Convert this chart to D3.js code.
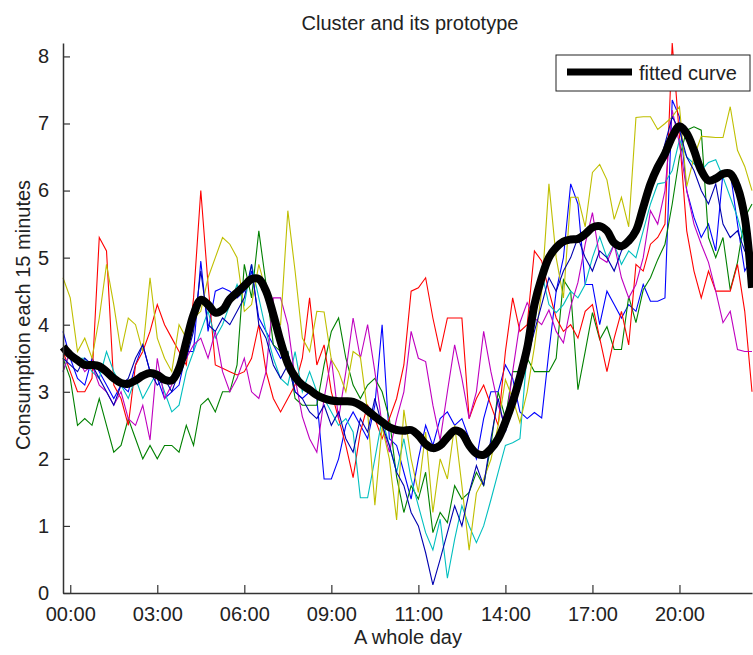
<!DOCTYPE html>
<html>
<head>
<meta charset="utf-8">
<script src="https://cdn.jsdelivr.net/npm/d3@7"></script>
<style>
  body { margin: 0; background: #fff; }
  svg { display: block; font-family: "Liberation Sans", Arial, sans-serif; }
</style>
</head>
<body>
<div id="chart"></div>
<script>
// 96 quarter-hour readings per day
const tickIndex = [1, 13, 25, 37, 49, 61, 73, 85];
const tickLabels = ["00:00", "03:00", "06:00", "09:00", "11:00", "14:00", "17:00", "20:00"];
const yTicks = [0, 1, 2, 3, 4, 5, 6, 7, 8];

const blueSeries = [3.9,3.5,3.2,3.1,3.5,3.3,3.1,2.9,3.1,3.0,3.4,3.7,3.3,3.2,2.9,3.0,3.1,3.6,3.6,4.95,3.9,4.5,4.55,4.5,4.4,4.5,4.8,4.1,3.9,3.7,3.5,3.6,3.0,2.9,3.0,2.9,1.7,1.7,2.0,2.5,2.7,2.5,2.3,2.8,4.0,2.3,2.2,1.8,1.4,2.0,2.5,2.2,2.6,2.7,2.5,2.6,2.3,2.0,2.6,3.0,3.0,3.4,3.2,2.7,2.6,2.69,2.61,3.6,4.5,5.0,6.1,5.8,4.6,4.6,4.0,4.5,4.3,4.1,4.3,4.2,4.6,4.35,4.35,4.4,7.35,7.1,6.0,5.6,5.3,5.5,5.1,6.27,6.28,5.5,4.8,5.0];
const greenSeries = [3.5,3.2,2.5,2.6,2.5,2.9,2.5,2.1,2.2,2.6,2.3,2.0,2.2,2.0,2.2,2.2,2.1,2.5,2.2,2.8,2.9,2.7,3.0,3.0,3.4,4.9,4.4,5.4,4.6,3.7,3.6,3.6,2.9,2.8,2.8,2.8,3.4,3.9,4.1,3.5,3.1,2.9,3.1,3.2,3.0,2.6,1.73,1.2,1.6,1.4,1.8,0.9,1.2,1.05,1.6,1.4,1.5,1.8,1.6,2.2,3.0,2.6,3.3,3.3,3.5,3.3,3.3,3.3,3.5,4.67,4.5,3.03,3.6,4.18,3.78,3.97,3.63,3.63,4.42,4.03,4.52,4.7,4.97,5.2,5.8,6.5,6.9,6.95,6.9,5.3,5.0,5.3,4.52,4.93,5.6,5.8];
const redSeries = [3.6,3.3,3.0,3.0,3.2,5.3,5.1,3.1,2.9,2.5,3.4,3.6,3.9,4.3,4.0,3.8,3.6,3.4,4.4,6.0,4.6,3.4,3.35,3.3,3.25,3.3,3.5,4.0,3.3,2.9,2.7,2.9,3.1,3.5,4.4,3.4,3.7,3.0,2.6,2.2,1.72,2.4,2.8,2.6,2.3,2.6,2.9,3.4,4.5,4.55,4.7,4.1,3.6,4.1,4.1,4.1,2.6,2.9,3.1,2.8,2.5,3.6,4.4,3.9,4.0,5.1,4.95,4.5,4.1,3.9,4.0,3.8,4.2,4.3,3.8,3.3,3.8,4.2,3.7,4.9,4.8,5.2,5.3,5.5,8.2,6.8,5.4,4.8,4.4,4.8,4.5,4.5,4.5,4.9,4.2,3.0];
const cyanSeries = [3.3,3.6,3.5,3.5,3.3,3.2,3.6,3.3,3.1,2.9,3.2,2.9,3.1,3.3,3.0,2.7,2.8,3.3,3.6,3.9,4.2,3.8,4.0,4.3,4.6,4.3,4.9,4.4,3.9,3.5,3.2,3.1,3.6,3.0,3.3,3.0,2.9,2.7,2.5,2.6,2.4,1.42,1.42,2.0,2.6,2.2,1.8,2.3,1.7,1.3,0.9,0.64,1.1,0.22,0.8,1.3,1.0,0.75,1.0,1.39,1.8,2.2,2.24,2.3,3.58,4.0,4.78,4.3,4.18,4.3,4.5,4.4,4.6,5.0,5.31,5.0,5.2,4.9,5.1,5.0,5.4,5.8,6.1,6.12,6.3,6.76,6.5,6.4,6.3,6.42,6.46,6.2,5.9,5.6,5.2,4.8];
const magentaSeries = [3.3,3.6,3.5,3.3,3.4,3.1,3.0,2.8,3.0,2.6,2.5,2.8,2.28,3.5,2.9,3.1,3.4,3.5,3.7,3.8,3.5,3.9,3.3,3.0,3.2,3.5,3.0,2.9,3.3,4.4,4.4,4.0,3.2,2.63,2.3,2.1,2.9,3.5,2.6,3.3,4.1,3.5,4.0,3.3,2.5,2.1,2.6,3.0,3.9,3.5,3.45,2.8,2.28,3.0,3.7,3.2,2.6,3.0,3.9,3.3,2.8,2.48,3.3,4.03,4.33,4.1,4.0,4.22,3.9,3.73,4.27,4.63,5.2,5.67,5.0,4.93,5.2,4.7,4.4,4.6,5.0,5.7,5.5,6.0,7.2,6.7,6.0,5.5,5.2,4.93,4.5,4.03,4.2,3.63,3.6,3.6];
const yellowSeries = [4.7,4.4,3.6,3.8,3.5,4.1,4.9,4.3,3.6,4.1,4.0,3.6,4.7,3.8,3.5,3.3,4.0,3.8,4.1,4.2,4.7,5.0,5.3,5.2,5.0,4.2,4.3,4.9,4.5,4.0,4.0,5.7,4.8,3.8,3.6,4.2,4.19,3.48,3.3,3.0,3.6,3.52,2.7,1.31,2.48,2.0,1.09,2.73,2.0,1.5,2.4,1.2,2.0,1.7,2.5,1.6,0.64,1.49,1.7,1.99,2.5,3.18,2.9,2.54,3.0,3.67,4.5,6.1,5.0,4.4,5.9,5.9,5.46,6.27,6.39,6.16,5.57,5.9,5.46,7.09,7.1,7.1,6.91,7.0,7.1,7.25,6.06,6.5,6.81,6.8,6.79,6.79,7.25,6.6,6.36,6.0];
const navySeries = [3.5,3.4,3.3,3.5,3.4,3.2,3.0,2.8,3.1,3.2,3.5,3.7,3.3,3.1,3.2,3.0,3.3,3.5,3.9,4.8,4.0,3.9,4.1,4.0,4.2,4.4,4.9,4.0,3.8,3.4,3.2,3.4,3.0,2.9,2.7,2.6,2.8,2.5,2.7,2.3,2.1,2.6,2.4,2.9,2.5,2.2,1.8,1.6,1.2,1.0,0.6,0.12,0.5,0.9,1.3,1.0,1.5,1.9,1.6,2.3,2.9,2.4,2.8,3.1,3.5,3.9,4.3,4.7,4.5,4.8,5.0,5.3,5.0,4.8,5.1,5.0,4.8,5.1,5.3,5.5,5.8,6.0,6.3,6.7,7.1,6.9,6.5,6.3,6.0,5.8,6.1,5.5,5.3,5.4,5.1,5.0];
const fittedCurve = [3.67,3.55,3.47,3.40,3.40,3.38,3.30,3.20,3.13,3.12,3.17,3.24,3.28,3.25,3.18,3.17,3.35,3.75,4.15,4.37,4.30,4.18,4.22,4.38,4.48,4.58,4.68,4.68,4.50,4.15,3.75,3.42,3.22,3.10,3.03,2.95,2.90,2.87,2.86,2.86,2.85,2.80,2.72,2.63,2.55,2.47,2.43,2.42,2.43,2.35,2.22,2.16,2.20,2.32,2.42,2.38,2.20,2.08,2.06,2.15,2.30,2.55,2.85,3.22,3.65,4.30,4.70,5.00,5.15,5.24,5.27,5.28,5.35,5.45,5.47,5.40,5.22,5.17,5.25,5.40,5.75,6.10,6.35,6.55,6.80,6.96,6.85,6.60,6.30,6.15,6.18,6.25,6.25,6.05,5.60,4.55];

const series = [
  { values: blueSeries, color: "#0000ff" },
  { values: greenSeries, color: "#008000" },
  { values: redSeries, color: "#ff0000" },
  { values: cyanSeries, color: "#00bfbf" },
  { values: magentaSeries, color: "#bf00bf" },
  { values: yellowSeries, color: "#bfbf00" },
  { values: navySeries, color: "#0000b0" }
];

const W = 753, H = 655;
const margin = { top: 43, right: 1, bottom: 62, left: 63 };

const svg = d3.select("#chart").append("svg")
  .attr("width", W)
  .attr("height", H);

const x = d3.scaleLinear()
  .domain([0, 95])
  .range([margin.left, W - margin.right]);

const y = d3.scaleLinear()
  .domain([0, 8.2])
  .range([H - margin.bottom, margin.top]);

const line = d3.line()
  .x((d, i) => x(i))
  .y(d => y(d));

series.forEach(s => {
  svg.append("path")
    .datum(s.values)
    .attr("fill", "none")
    .attr("stroke", s.color)
    .attr("stroke-width", 1.1)
    .attr("d", line);
});

svg.append("path")
  .datum(fittedCurve)
  .attr("fill", "none")
  .attr("stroke", "#000")
  .attr("stroke-width", 8)
  .attr("stroke-linejoin", "round")
  .attr("d", line.curve(d3.curveCatmullRom));

// axes, MATLAB style: ticks pointing inwards
const xAxis = svg.append("g")
  .attr("transform", `translate(0,${y(0)})`)
  .call(d3.axisBottom(x)
    .tickValues(tickIndex)
    .tickFormat((d, i) => tickLabels[i])
    .tickSizeInner(-8)
    .tickSizeOuter(0)
    .tickPadding(14));

const yAxis = svg.append("g")
  .attr("transform", `translate(${margin.left},0)`)
  .call(d3.axisLeft(y)
    .tickValues(yTicks)
    .tickSizeInner(-7)
    .tickSizeOuter(0)
    .tickPadding(14));

[xAxis, yAxis].forEach(g => {
  g.select(".domain").attr("stroke", "#333").attr("stroke-width", 1.5);
  g.selectAll(".tick line").attr("stroke", "#333").attr("stroke-width", 1.2);
  g.selectAll("text")
    .attr("fill", "#222")
    .style("font-size", "20px")
    .style("font-family", "Liberation Sans, Arial, sans-serif");
});

svg.append("text")
  .attr("x", 410)
  .attr("y", 30)
  .attr("text-anchor", "middle")
  .attr("fill", "#222")
  .style("font-size", "20px")
  .text("Cluster and its prototype");

svg.append("text")
  .attr("x", 408)
  .attr("y", 644)
  .attr("text-anchor", "middle")
  .attr("fill", "#222")
  .style("font-size", "20px")
  .text("A whole day");

svg.append("text")
  .attr("transform", `translate(30,${(y(0) + y(8.2)) / 2 - 3}) rotate(-90)`)
  .attr("text-anchor", "middle")
  .attr("fill", "#222")
  .style("font-size", "20px")
  .text("Consumption each 15 minutes");

// legend
const legend = svg.append("g").attr("transform", "translate(556,55)");
legend.append("rect")
  .attr("width", 194)
  .attr("height", 36)
  .attr("fill", "#fff")
  .attr("stroke", "#222")
  .attr("stroke-width", 1);
legend.append("line")
  .attr("x1", 11).attr("x2", 76)
  .attr("y1", 17).attr("y2", 17)
  .attr("stroke", "#000")
  .attr("stroke-width", 7);
legend.append("text")
  .attr("x", 83)
  .attr("y", 25)
  .attr("fill", "#222")
  .style("font-size", "20px")
  .text("fitted curve");
</script>
</body>
</html>
